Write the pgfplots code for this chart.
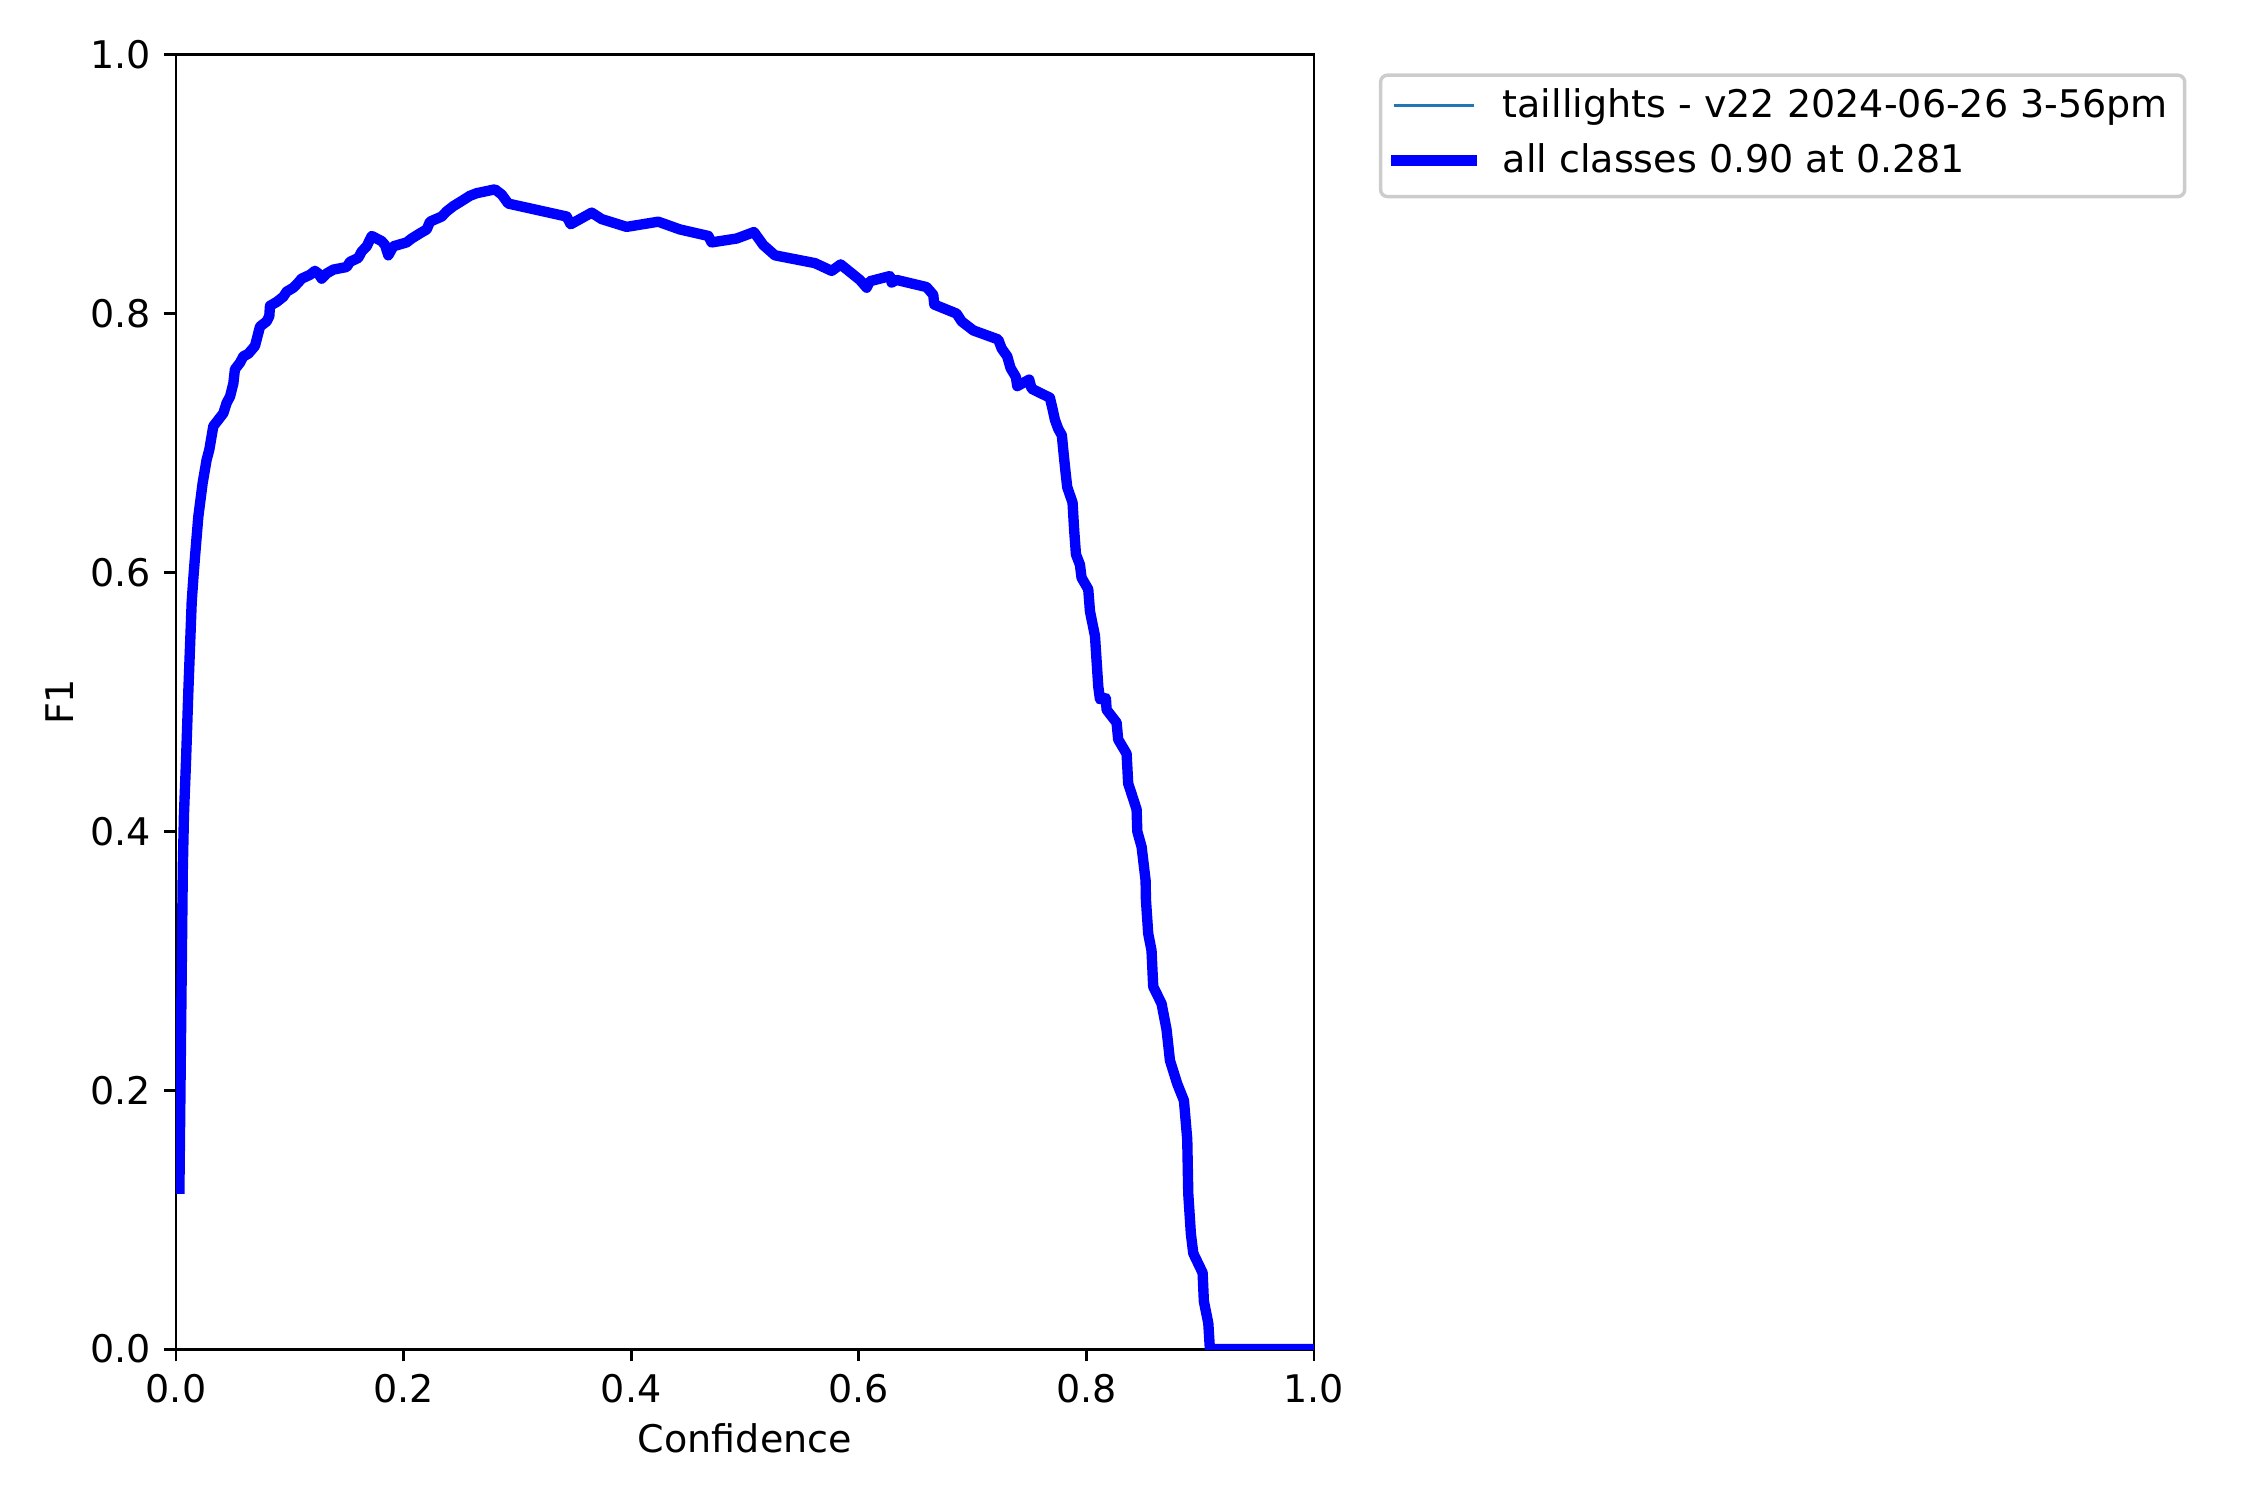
\documentclass[border=0pt]{standalone}
\usepackage{fontspec}
\setmainfont{DejaVu Sans}
\usepackage{pgfplots}
\usepackage{pgfplotstable}
\pgfplotsset{compat=1.18}
\definecolor{tabblue}{HTML}{1F77B4}

% F1 against confidence
\pgfplotstableread{
conf    f1
0.0030  0.124
0.0050  0.290
0.0060  0.372
0.0070  0.413
0.0088  0.454
0.0108  0.507
0.0138  0.577
0.0152  0.595
0.0167  0.612
0.0196  0.643
0.0234  0.669
0.0269  0.687
0.0293  0.695
0.0328  0.713
0.0372  0.718
0.0416  0.723
0.0445  0.731
0.0475  0.736
0.0504  0.746
0.0518  0.757
0.0562  0.762
0.0592  0.767
0.0636  0.769
0.0694  0.775
0.0715  0.782
0.0738  0.790
0.0797  0.794
0.0820  0.798
0.0826  0.806
0.0885  0.809
0.0943  0.813
0.0973  0.817
0.1031  0.820
0.1075  0.824
0.1104  0.827
0.1178  0.830
0.1221  0.833
0.1251  0.831
0.1280  0.827
0.1324  0.831
0.1383  0.834
0.1500  0.836
0.1529  0.840
0.1602  0.843
0.1632  0.848
0.1676  0.852
0.1720  0.860
0.1807  0.856
0.1837  0.853
0.1866  0.845
0.1910  0.852
0.2027  0.855
0.2071  0.858
0.2144  0.862
0.2203  0.865
0.2232  0.871
0.2335  0.875
0.2379  0.879
0.2437  0.883
0.2511  0.887
0.2583  0.891
0.2642  0.893
0.2803  0.896
0.2862  0.892
0.2920  0.885
0.3433  0.875
0.3468  0.869
0.3653  0.878
0.3741  0.873
0.3960  0.867
0.4238  0.871
0.4429  0.865
0.4678  0.860
0.4707  0.855
0.4927  0.858
0.5079  0.863
0.5161  0.853
0.5264  0.845
0.5615  0.839
0.5762  0.833
0.5841  0.838
0.6010  0.826
0.6070  0.820
0.6098  0.825
0.6274  0.829
0.6289  0.824
0.6333  0.826
0.6596  0.8205
0.6655  0.8145
0.6664  0.807
0.6860  0.800
0.6904  0.794
0.7007  0.787
0.7226  0.780
0.7256  0.773
0.7305  0.767
0.7334  0.758
0.7381  0.751
0.7393  0.744
0.7498  0.749
0.7519  0.742
0.7680  0.735
0.7704  0.726
0.7724  0.718
0.7753  0.711
0.7785  0.706
0.7797  0.695
0.7812  0.682
0.7832  0.666
0.7879  0.654
0.7893  0.633
0.7909  0.614
0.7944  0.606
0.7958  0.596
0.8017  0.587
0.8032  0.570
0.8076  0.551
0.8105  0.512
0.8120  0.502
0.8172  0.503
0.8178  0.494
0.8266  0.484
0.8280  0.471
0.8354  0.460
0.8368  0.437
0.8442  0.417
0.8448  0.400
0.8486  0.388
0.8521  0.362
0.8524  0.347
0.8544  0.321
0.8573  0.308
0.8588  0.280
0.8661  0.267
0.8705  0.247
0.8735  0.223
0.8799  0.205
0.8858  0.192
0.8887  0.162
0.8896  0.120
0.8919  0.089
0.8940  0.074
0.9022  0.059
0.9033  0.037
0.9072  0.020
0.9086  0.000
1.0000  0.000
}\fone

\begin{document}
\begin{tikzpicture}
\begin{axis}[
  name=ax,
  scale only axis,
  width=11.56cm, height=13.15cm,
  xmin=0, xmax=1, ymin=0, ymax=1,
  xtick={0,0.2,...,1.0}, ytick={0,0.2,...,1.0},
  tick align=outside,
  xtick pos=bottom, ytick pos=left,
  major tick length=3.5pt,
  every tick/.style={black, line width=0.8pt},
  axis line style={line width=0.8pt},
  /pgf/number format/.cd, fixed, fixed zerofill, precision=1, assume math mode=true,
  /pgfplots/.cd,
  ticklabel style={font=\fontsize{11}{13}\selectfont},
  xticklabel style={inner sep=0pt, yshift=-3.5pt},
  yticklabel style={inner sep=0pt, xshift=-3.5pt},
  label style={font=\fontsize{11}{13}\selectfont},
  xlabel={Confidence},
  ylabel={F1},
  xlabel style={yshift=-2.5pt},
  ylabel style={yshift=1.5pt},
  clip=true,
  legend style={
    at={(rel axis cs:1,1)}, anchor=north west,
    xshift=0.66cm, yshift=-0.19cm,
    draw=black!20, line width=1pt, rounded corners=2pt,
    fill=white,
    inner xsep=2.9pt, inner ysep=4.4pt,
    row sep=5.3pt, column sep=7.4pt,
    font=\fontsize{11}{13}\selectfont,
    nodes={inner sep=0pt, text height=7.9pt, text depth=2.6pt},
  },
  legend cell align=left,
  legend image code/.code={\draw[#1] (0pt,0.8pt) -- (22pt,0.8pt);},
]
\addplot[tabblue, line width=1pt, line join=round, line cap=rect] table[x=conf, y=f1] {\fone};
\addlegendentry{taillights - v22 2024-06-26 3-56pm\kern1.9pt}
\addplot[blue, line width=3pt, line join=round, line cap=rect] table[x=conf, y=f1] {\fone};
\addlegendentry{all classes 0.90 at 0.281}
\end{axis}
\pgfresetboundingbox
\path[use as bounding box] ([xshift=-1.788cm, yshift=-1.534cm]ax.south west)
  rectangle ([xshift=21.07cm, yshift=13.706cm]ax.south west);
\end{tikzpicture}
\end{document}
